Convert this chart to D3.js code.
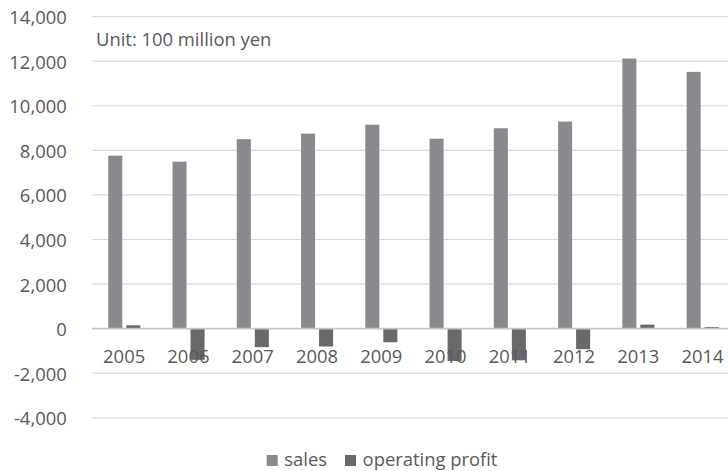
<!DOCTYPE html>
<html>
<head>
<meta charset="utf-8">
<script src="https://cdn.jsdelivr.net/npm/d3@7/dist/d3.min.js"></script>
<style>
  html, body { margin: 0; padding: 0; background: #ffffff; }
  svg { display: block; }
  text { font-family: "Open Sans", "Noto Sans", sans-serif; fill: #595959; }
</style>
</head>
<body>
<script>
// Annual figures, unit: 100 million yen
const years = ["2005", "2006", "2007", "2008", "2009", "2010", "2011", "2012", "2013", "2014"];
const sales = [7760, 7490, 8500, 8750, 9150, 8520, 8990, 9290, 12120, 11520];
const operatingProfit = [150, -1400, -830, -800, -610, -1450, -1420, -920, 180, 70];
const seriesNames = ["sales", "operating profit"];
const yTicks = [-4000, -2000, 0, 2000, 4000, 6000, 8000, 10000, 12000, 14000];
const unitNote = "Unit: 100 million yen";

const W = 728, H = 471;
const FONT = 18.4;
const svg = d3.select("body").append("svg").attr("width", W).attr("height", H);

const colors = d3.scaleOrdinal().domain(seriesNames).range(["#898a8e", "#69696b"]);

const y = d3.scaleLinear().domain([-4000, 14000]).range([417.8, 16.6]);
const x0 = d3.scaleBand().domain(years).range([92, 734.6]).paddingInner(0).paddingOuter(0);
const bw = x0.bandwidth();
const x1 = d3.scaleBand().domain(seriesNames)
  .range([bw * 0.253, bw * 0.752]).paddingInner(0.22).paddingOuter(0);

// value labels use a plain hyphen for negatives
const fmt = d => d3.format(",")(d).replace("\u2212", "-");

// horizontal gridlines with value labels on the left
const yAxis = d3.axisLeft(y).tickValues(yTicks).tickSize(0).tickPadding(0).tickFormat(fmt);
const gy = svg.append("g").attr("transform", "translate(66.7,0)").call(yAxis);
gy.select(".domain").remove();
gy.selectAll("text").attr("font-size", FONT).attr("dy", "0.38em")
  .style("font-family", "'Open Sans', sans-serif").attr("fill", "#595959");

svg.append("g").selectAll("line")
  .data(yTicks.filter(t => t !== 0))
  .join("line")
  .attr("x1", x0.range()[0]).attr("x2", x0.range()[1])
  .attr("y1", d => y(d)).attr("y2", d => y(d))
  .attr("stroke", "#d9d9d9").attr("stroke-width", 1.2);

// bars
const rows = years.map((yr, i) => ({ year: yr, values: [
  { key: "sales", value: sales[i] },
  { key: "operating profit", value: operatingProfit[i] }
]}));

const groups = svg.append("g").selectAll("g")
  .data(rows).join("g")
  .attr("transform", d => `translate(${x0(d.year)},0)`);

groups.selectAll("rect")
  .data(d => d.values).join("rect")
  .attr("x", d => x1(d.key))
  .attr("width", x1.bandwidth())
  .attr("y", d => y(Math.max(0, d.value)))
  .attr("height", d => Math.abs(y(d.value) - y(0)))
  .attr("fill", d => colors(d.key));

// zero baseline
svg.append("line")
  .attr("x1", x0.range()[0]).attr("x2", x0.range()[1])
  .attr("y1", y(0)).attr("y2", y(0))
  .attr("stroke", "#c6c6c6").attr("stroke-width", 1.8);

// category labels sit under the baseline, drawn over the bars
const xAxis = d3.axisBottom(x0).tickSize(0).tickPadding(0);
const gx = svg.append("g").attr("transform", `translate(0,${y(0)})`).call(xAxis);
gx.select(".domain").remove();
gx.selectAll("text").attr("y", 34).attr("dy", null).attr("font-size", FONT)
  .style("font-family", "'Open Sans', sans-serif").attr("fill", "#595959");

// unit note
svg.append("text").attr("x", 96).attr("y", 46)
  .attr("font-size", FONT).attr("fill", "#262626").text(unitNote);

// legend
const legendPos = [266.7, 345];
const lg = svg.append("g").selectAll("g")
  .data(seriesNames).join("g")
  .attr("transform", (d, i) => `translate(${legendPos[i]},455)`);
lg.append("rect").attr("width", 11).attr("height", 11).attr("fill", d => colors(d));
lg.append("text").attr("x", 17.6).attr("y", 10.7).attr("font-size", FONT)
  .attr("fill", "#595959").text(d => d);
</script>
</body>
</html>
